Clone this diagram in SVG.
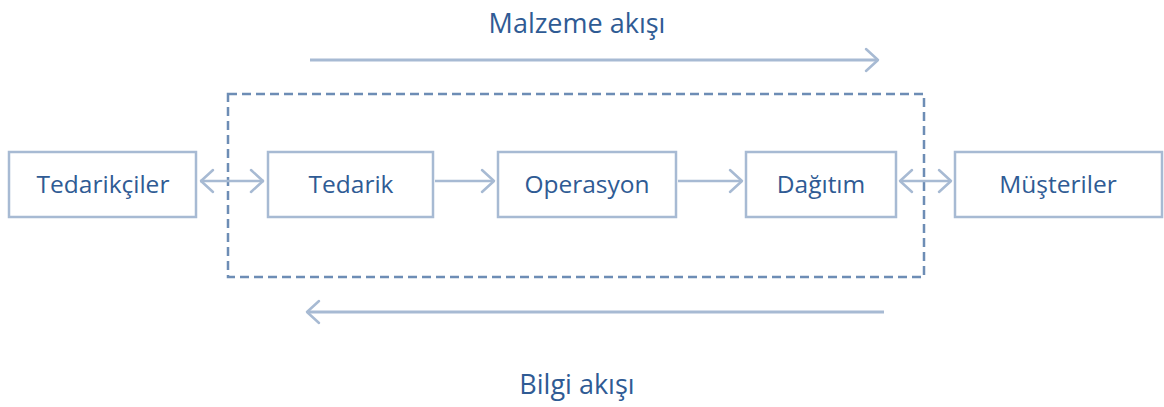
<svg xmlns="http://www.w3.org/2000/svg" width="1164" height="407" viewBox="0 0 1164 407">
<style>
.box{fill:#fff;stroke:#a7bad3;stroke-width:2.5}
.t{font-family:"Open Sans","Noto Sans",sans-serif;font-size:24.5px;fill:#2f5b94;text-anchor:middle}
.l{font-size:27px}
.c{stroke:#a7bad3;stroke-width:2.5;fill:none}
.h{stroke:#a7bad3;stroke-width:2.5;fill:none;stroke-linecap:round;stroke-linejoin:round}
.flow{stroke:#a7bad3;stroke-width:3;fill:none}
</style>
<rect width="1164" height="407" fill="#fff"/>
<g id="nodes">
<g id="tedarikciler"><rect class="box" x="9" y="152" width="187" height="65"/><text class="t" x="103" y="193">Tedarikçiler</text></g>
<g id="tedarik"><rect class="box" x="268" y="152" width="165" height="65"/><text class="t" x="351" y="193">Tedarik</text></g>
<g id="operasyon"><rect class="box" x="498" y="152" width="178" height="65"/><text class="t" x="587" y="193">Operasyon</text></g>
<g id="dagitim"><rect class="box" x="746" y="152" width="150" height="65"/><text class="t" x="821" y="193">Dağıtım</text></g>
<g id="musteriler"><rect class="box" x="955" y="152" width="207" height="65"/><text class="t" x="1058" y="193">Müşteriler</text></g>
</g>
<g id="boundary"><rect x="228" y="94" width="696" height="183" fill="none" stroke="#6d8db5" stroke-width="2.5" stroke-dasharray="9,5"/></g>
<g id="connectors">
<line class="c" x1="200" y1="181" x2="264" y2="181"/>
<polyline class="h" points="213,170 201,181 213,192"/>
<polyline class="h" points="251,170 263,181 251,192"/>
<line class="c" x1="435" y1="181" x2="494" y2="181"/>
<polyline class="h" points="482,170 494,181 482,192"/>
<line class="c" x1="678" y1="181" x2="742" y2="181"/>
<polyline class="h" points="730,170 742,181 730,192"/>
<line class="c" x1="900" y1="181" x2="951" y2="181"/>
<polyline class="h" points="912,170 900,181 912,192"/>
<polyline class="h" points="939,170 951,181 939,192"/>
<line class="flow" x1="310" y1="60" x2="878" y2="60"/>
<polyline class="h" points="866,49 878,60 866,71"/>
<line class="flow" x1="307" y1="312" x2="884" y2="312"/>
<polyline class="h" points="319,301 307,312 319,323"/>
</g>
<g id="labels">
<text class="t l" x="577" y="33">Malzeme akışı</text>
<text class="t l" x="577" y="394">Bilgi akışı</text>
</g>
</svg>
